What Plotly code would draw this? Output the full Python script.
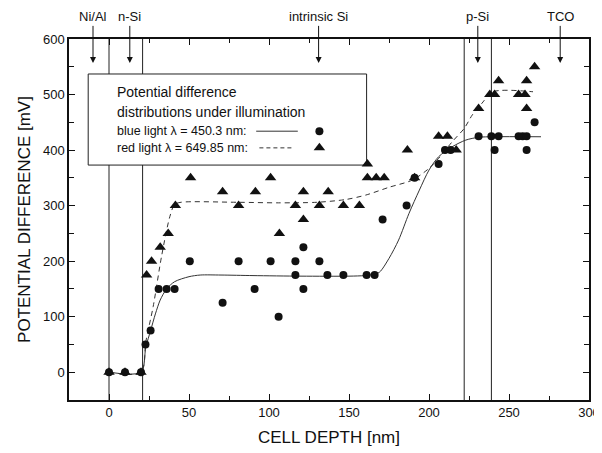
import plotly.graph_objects as go

# ---- data ----
blue_x = [0, 10, 20, 22.8, 26, 31, 36, 41, 91, 121.5, 71, 106,
          116.5, 136.5, 146.5, 161, 166,
          50.5, 81, 101, 116.5, 131.5, 121.5, 171, 186, 191, 206,
          210, 213.5, 241, 261,
          231, 239, 243.5, 256, 258.5, 261, 266]
blue_y = [0, 0, 0, 50, 75, 150, 150, 150, 150, 150, 125, 100,
          175, 175, 175, 175, 175,
          200, 200, 200, 200, 200, 225, 275, 300, 350, 375,
          400, 400, 400, 400,
          425, 425, 425, 425, 425, 425, 450]

red_x = [0, 10, 20, 23.5, 26.6, 32, 37, 106.5, 121.5,
         41.5, 81, 116.5, 131.5, 146.5, 156.5,
         71, 91.5, 121.5, 137,
         51, 101, 161.5, 167, 172, 191, 161.5,
         186.5, 217, 206, 211.5,
         231, 261, 238, 241, 256, 260, 243.5, 261, 266]
red_y = [0, 0, 0, 175, 200, 225, 250, 250, 275,
         300, 300, 300, 300, 300, 300,
         325, 325, 325, 325,
         350, 350, 350, 350, 350, 350, 375,
         400, 400, 425, 425,
         475, 475, 500, 500, 500, 500, 525, 525, 550]

blue_fit_x = [0, 20, 23, 26, 29, 32, 36, 41, 50, 57, 70, 90, 120, 150, 160, 165,
              169, 175, 181, 187.5, 194, 200, 206, 214.5, 223, 231, 240, 270]
blue_fit_y = [0, 0, 45, 75, 105, 130, 150, 163, 172, 175, 175, 174, 173, 173, 174, 176,
              180, 205, 238, 286, 328, 364, 388, 406, 418, 423, 424, 424]

red_fit_x = [0, 20, 23, 27.6, 32.8, 38, 41, 45, 80, 106, 130, 148, 160.5, 175,
             189.6, 200, 206, 214.5, 222, 227, 233, 240, 265]
red_fit_y = [0, 0, 55, 118, 208, 280, 302, 306, 306, 305, 306, 311, 319, 333,
             346, 367, 385, 415, 439, 463, 484, 505, 505]

boundaries = [0, 21, 222, 239]
layer_labels = ["Ni/Al", "n-Si", "intrinsic Si", "p-Si", "TCO"]
layer_arrow_x = [-10, 13, 131, 230.5, 282]

FONT = "Liberation Sans, Arial, sans-serif"
INK = "#111111"
LINE = "#333333"

fig = go.Figure()

fig.add_trace(go.Scatter(x=blue_fit_x, y=blue_fit_y, mode="lines",
                         line=dict(color=LINE, width=1, shape="spline", smoothing=0.8),
                         hoverinfo="skip", showlegend=False))
fig.add_trace(go.Scatter(x=red_fit_x, y=red_fit_y, mode="lines",
                         line=dict(color=LINE, width=1, dash="5px,4px", shape="spline", smoothing=0.8),
                         hoverinfo="skip", showlegend=False))
fig.add_trace(go.Scatter(x=blue_x, y=blue_y, mode="markers",
                         marker=dict(symbol="circle", size=8, color=INK),
                         showlegend=False))
fig.add_trace(go.Scatter(x=red_x, y=red_y, mode="markers",
                         marker=dict(symbol="triangle-up", size=10, color=INK),
                         showlegend=False))

shapes = []
for bx in boundaries:
    shapes.append(dict(type="line", xref="x", yref="paper", x0=bx, x1=bx, y0=0, y1=1,
                       line=dict(color="#222222", width=1), layer="below"))
# legend box
shapes.append(dict(type="rect", xref="x", yref="y", x0=-13, x1=161, y0=373, y1=537,
                   line=dict(color="#222222", width=1), fillcolor="white", layer="below"))
# legend line samples
shapes.append(dict(type="line", xref="x", yref="y", x0=92, x1=118, y0=434, y1=434,
                   line=dict(color=LINE, width=1)))
shapes.append(dict(type="line", xref="x", yref="y", x0=94, x1=114, y0=404, y1=404,
                   line=dict(color=LINE, width=1, dash="4px,3px")))

fig.add_trace(go.Scatter(x=[131.5], y=[434], mode="markers",
                         marker=dict(symbol="circle", size=8, color=INK),
                         hoverinfo="skip", showlegend=False))
fig.add_trace(go.Scatter(x=[131.5], y=[404], mode="markers",
                         marker=dict(symbol="triangle-up", size=10, color=INK),
                         hoverinfo="skip", showlegend=False))

annotations = []
legend_lines = ["Potential difference", "distributions under illumination",
                "blue light \u03bb = 450.3 nm:", "red light \u03bb = 649.85 nm:"]
legend_y = [504, 468, 434, 404]
legend_size = [14, 14, 12.5, 12.5]
for t, yy, fs in zip(legend_lines, legend_y, legend_size):
    annotations.append(dict(x=3.5, y=yy, xref="x", yref="y", text=t, showarrow=False,
                            xanchor="left", yanchor="middle",
                            font=dict(family=FONT, size=fs, color=INK)))

for lab, ax_ in zip(layer_labels, layer_arrow_x):
    annotations.append(dict(x=ax_, y=557, xref="x", yref="y", text=lab,
                            showarrow=True, arrowhead=2, arrowsize=1.2, arrowwidth=1,
                            arrowcolor=INK, ax=0, ay=-46,
                            font=dict(family=FONT, size=13, color=INK)))

# the page body adds an 8px offset, so the figure is 8px smaller than the window
fig.update_layout(
    width=594, height=445,
    margin=dict(l=61, r=13, t=31, b=53, autoexpand=False),
    paper_bgcolor="white", plot_bgcolor="white",
    font=dict(family=FONT, color=INK),
    shapes=shapes, annotations=annotations,
    xaxis=dict(range=[-25, 300], tick0=0, dtick=50, ticks="inside", ticklen=6,
               tickcolor=INK, tickwidth=1, showline=True, linecolor=INK, linewidth=1.5,
               mirror="ticks", showgrid=False, zeroline=False, automargin=False,
               minor=dict(dtick=25, ticks="inside", ticklen=4, tickcolor=INK),
               tickfont=dict(family=FONT, size=13, color=INK),
               title=dict(text="CELL DEPTH [nm]", font=dict(family=FONT, size=17, color=INK),
                          standoff=12)),
    yaxis=dict(range=[-50, 600], tick0=0, dtick=100, ticks="inside", ticklen=6,
               tickcolor=INK, tickwidth=1, showline=True, linecolor=INK, linewidth=1.5,
               mirror="ticks", showgrid=False, zeroline=False, automargin=False,
               minor=dict(dtick=50, ticks="inside", ticklen=5, tickcolor=INK),
               tickfont=dict(family=FONT, size=13, color=INK),
               title=dict(text="POTENTIAL DIFFERENCE [mV]",
                          font=dict(family=FONT, size=17, color=INK), standoff=8)),
)

fig.write_html("out.html")
